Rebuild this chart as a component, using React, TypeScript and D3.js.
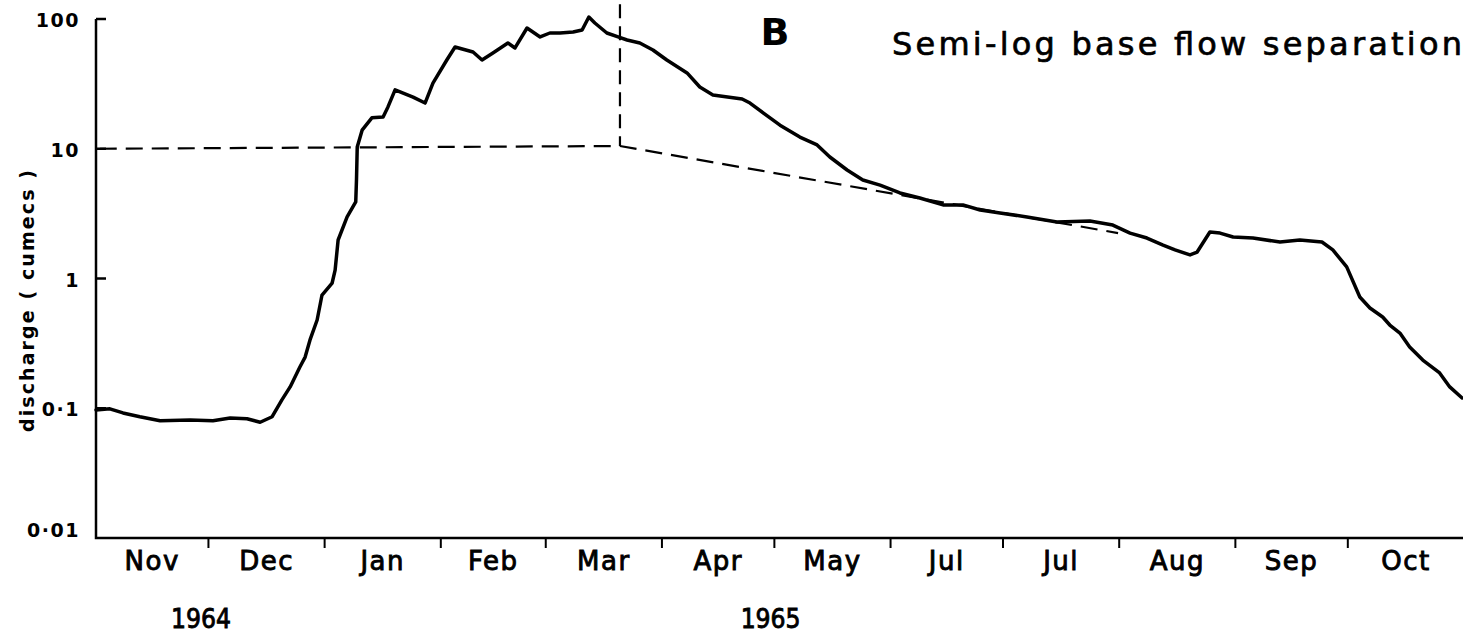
import { useEffect, useRef } from "react";
import * as d3 from "d3";

// month labels as printed on the original figure (Jun is labelled "Jul" there)
const monthLabels = ["Nov", "Dec", "Jan", "Feb", "Mar", "Apr", "May", "Jul", "Jul", "Aug", "Sep", "Oct"];
const yearLabels = ["1964", "1965"];
const yearDates = ["1964-11-29", "1965-04-30"];
const yTickValues = [100, 10, 1, 0.1, 0.01];
const yTickLabels = ["100", "10", "1", "0·1", "0·01"];

// daily discharge, days since 1 Nov 1964
const flowDays = [
  0, 3.7, 7.2, 11.7, 17.1, 25.1, 31.2, 35.8, 40.3, 43.8, 47.0, 49.6, 51.8, 54.4, 55.8, 57.1,
  59.0, 60.3, 63.0, 63.8, 64.6, 67.0, 69.3, 69.5, 69.7, 71.0, 73.6, 76.6, 77.9, 79.8, 84.6,
  87.8, 89.9, 93.6, 95.8, 100.6, 103.0, 105.9, 109.9, 111.8, 115.0, 118.5, 121.1, 123.8,
  127.3, 129.7, 131.5, 133.1, 136.3, 139.3, 141.7, 145.1, 148.6, 152.3, 157.7, 161.1, 164.6,
  172.4, 174.5, 178.0, 182.5, 187.8, 192.4, 195.8, 200.4, 204.6, 209.2, 214.5, 219.8, 226.0,
  231.3, 235.9, 241.2, 248.4, 256.4, 265.2, 271.3, 275.9, 280.4, 284.7, 287.9, 291.9, 293.8,
  297.2, 299.9, 303.4, 308.7, 315.9, 321.2, 327.1, 330.0, 333.7, 337.2, 339.9, 343.3, 345.2,
  347.9, 350.5, 354.0, 358.5, 361.2, 364.5,
];
const flowValues = [
  0.097, 0.099, 0.092, 0.086, 0.08, 0.081, 0.08, 0.084, 0.083, 0.078, 0.086, 0.116, 0.146,
  0.208, 0.248, 0.336, 0.479, 0.746, 0.923, 1.16, 1.98, 2.98, 3.89, 5.74, 10.3, 13.9, 17.3,
  17.6, 21.0, 28.4, 25.0, 22.5, 32.1, 48.3, 60.9, 55.7, 48.3, 54.7, 65.3, 59.8, 85.2, 72.7,
  78.0, 78.0, 79.4, 82.3, 103.6, 93.2, 78.0, 72.7, 68.9, 65.3, 57.7, 48.3, 38.4, 29.9, 26.0,
  24.2, 22.5, 18.9, 15.2, 12.3, 10.7, 8.64, 6.86, 5.74, 5.25, 4.56, 4.17, 3.69, 3.69, 3.37,
  3.2, 2.98, 2.73, 2.77, 2.58, 2.24, 2.05, 1.81, 1.66, 1.52, 1.6, 2.28, 2.24, 2.09, 2.05,
  1.91, 1.98, 1.91, 1.66, 1.23, 0.72, 0.592, 0.505, 0.438, 0.38, 0.297, 0.235, 0.187, 0.146,
  0.12,
];

// semi-log base flow separation line
const baseDays = [1, 139.8, 272.7];
const baseValues = [10, 10.5, 2.24];
const peakLineDays = [139.8, 139.8];
const peakLineValues = [130, 10.5];

const font = "'DejaVu Sans', sans-serif";

const App = () => {
  const chart = useRef<SVGSVGElement>(null);

  useEffect(() => {
    const width = 1463;
    const height = 636;
    const start = new Date(Date.UTC(1964, 10, 1));
    const end = new Date(Date.UTC(1965, 10, 1));
    const toDate = (d: number) => new Date(start.getTime() + d * 864e5);

    const x = d3.scaleUtc().domain([start, end]).range([96, 1464]);
    const y = d3.scaleLog().domain([0.01, 100]).range([538, 19]);

    const svg = d3.select(chart.current).attr("width", width).attr("height", height);
    svg.selectAll("*").remove();

    svg.append("rect").attr("width", width).attr("height", height).attr("fill", "white");

    // axes
    svg
      .append("path")
      .attr("d", `M${x(start)},${y(100)}V${y(0.01)}H${width}`)
      .attr("fill", "none")
      .attr("stroke", "black")
      .attr("stroke-width", 2.5);

    svg
      .append("g")
      .selectAll("line")
      .data(yTickValues.filter((v) => v > 0.01))
      .join("line")
      .attr("x1", x(start))
      .attr("x2", x(start) + 10)
      .attr("y1", (d) => y(d))
      .attr("y2", (d) => y(d))
      .attr("stroke", "black")
      .attr("stroke-width", 2.5);

    svg
      .append("g")
      .selectAll("text")
      .data(yTickValues)
      .join("text")
      .attr("x", 80)
      .attr("y", (d) => (d === 0.01 ? y(d) - 1 : y(d) + 8))
      .attr("text-anchor", "end")
      .attr("font-family", font)
      .attr("font-weight", "bold")
      .attr("font-size", 19)
      .attr("letter-spacing", 1.5)
      .text((d, i) => yTickLabels[i]);

    const months = d3.utcMonth.range(start, end);

    svg
      .append("g")
      .selectAll("line")
      .data(months.slice(1))
      .join("line")
      .attr("x1", (d) => x(d))
      .attr("x2", (d) => x(d))
      .attr("y1", y(0.01))
      .attr("y2", y(0.01) + 10)
      .attr("stroke", "black")
      .attr("stroke-width", 2);

    svg
      .append("g")
      .selectAll("text")
      .data(months)
      .join("text")
      .attr("x", (d) => x(new Date((d.getTime() + d3.utcMonth.offset(d, 1).getTime()) / 2)))
      .attr("y", 570)
      .attr("text-anchor", "middle")
      .attr("font-family", font)
      .attr("font-size", 26)
      .attr("stroke", "black")
      .attr("stroke-width", 0.9)
      .attr("letter-spacing", 1.5)
      .text((d, i) => monthLabels[i]);

    svg
      .append("g")
      .selectAll("text")
      .data(yearLabels)
      .join("text")
      .attr("x", (d, i) => x(new Date(yearDates[i])) - 30)
      .attr("y", 628)
      .attr("textLength", 60)
      .attr("lengthAdjust", "spacingAndGlyphs")
      .attr("font-family", font)
      .attr("font-size", 27)
      .attr("stroke", "black")
      .attr("stroke-width", 0.9)
      .text((d) => d);

    svg
      .append("text")
      .attr("transform", "translate(34,301) rotate(-90)")
      .attr("text-anchor", "middle")
      .attr("textLength", 262)
      .attr("lengthAdjust", "spacing")
      .attr("font-family", font)
      .attr("font-weight", "bold")
      .attr("font-size", 19)
      .text("discharge ( cumecs )");

    svg
      .append("text")
      .attr("x", 775)
      .attr("y", 45)
      .attr("text-anchor", "middle")
      .attr("font-family", font)
      .attr("font-weight", "bold")
      .attr("font-size", 38)
      .text("B");

    svg
      .append("text")
      .attr("x", 892)
      .attr("y", 55)
      .attr("textLength", 570)
      .attr("lengthAdjust", "spacing")
      .attr("font-family", font)
      .attr("font-size", 32)
      .attr("stroke", "black")
      .attr("stroke-width", 0.7)
      .text("Semi-log base flow separation");

    const line = d3
      .line<[number, number]>()
      .x((d) => x(toDate(d[0])))
      .y((d) => y(d[1]));

    // base flow dashed lines
    svg
      .append("path")
      .attr("d", line(d3.zip(baseDays, baseValues) as [number, number][]))
      .attr("fill", "none")
      .attr("stroke", "black")
      .attr("stroke-width", 2.2)
      .attr("stroke-dasharray", "17,9");

    svg
      .append("path")
      .attr("d", line(d3.zip(peakLineDays, peakLineValues) as [number, number][]))
      .attr("fill", "none")
      .attr("stroke", "black")
      .attr("stroke-width", 2.2)
      .attr("stroke-dasharray", "14,8");

    // hydrograph
    svg
      .append("path")
      .attr("d", line(d3.zip(flowDays, flowValues) as [number, number][]))
      .attr("fill", "none")
      .attr("stroke", "black")
      .attr("stroke-width", 3.5)
      .attr("stroke-linejoin", "round")
      .attr("stroke-linecap", "round");
  }, []);

  return (
    <div>
      <svg ref={chart} style={{ position: "absolute", left: 0, top: 0 }}></svg>
    </div>
  );
};

export default App;
